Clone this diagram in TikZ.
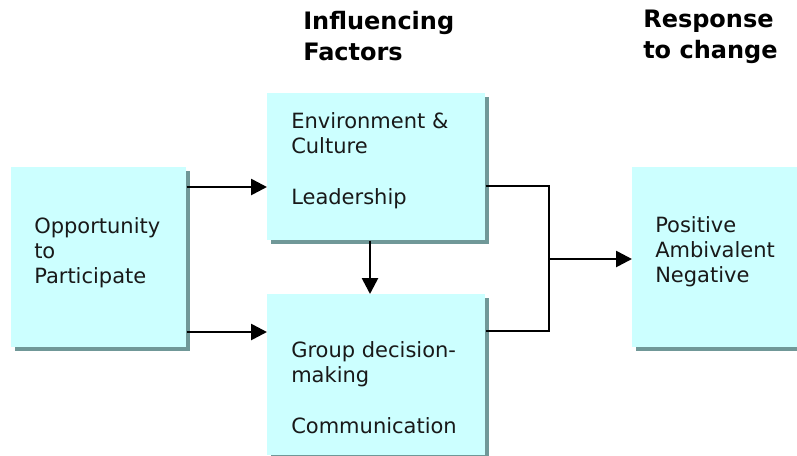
\documentclass[tikz,border=0pt]{standalone}
\usepackage{fontspec}
\setmainfont{DejaVu Sans}
\usetikzlibrary{arrows.meta,shadows}
\definecolor{boxfill}{HTML}{CCFFFF}
\definecolor{boxshadow}{HTML}{709898}
\begin{document}
\begin{tikzpicture}[x=0.75pt,y=-0.75pt,
 box/.style={fill=boxfill, draw=none, inner sep=0, anchor=north west,
   drop shadow={shadow xshift=3pt, shadow yshift=-3pt, fill=boxshadow, opacity=1}},
 lbl/.style={anchor=north west, inner sep=0, align=left, text=black!90,
   font=\fontsize{15.75}{19}\selectfont},
 hdr/.style={anchor=north west, inner sep=0, align=left,
   font=\fontsize{18}{23.25}\selectfont\bfseries},
 arr/.style={line width=2pt, -{Triangle[length=12pt,width=12pt]}},
 conn/.style={line width=1.5pt}]
\useasboundingbox (0,0) rectangle (797,455);
% boxes
\node[box, minimum width=131.25pt, minimum height=135pt] (L) at (11,167) {};
\node[box, minimum width=163.5pt, minimum height=110.25pt] (T) at (267,93) {};
\node[box, minimum width=163.5pt, minimum height=120.75pt] (B) at (267,294) {};
\node[box, minimum width=123.75pt, minimum height=135pt] (R) at (632,167) {};
% texts
\node[lbl] (Lt) at (34,213) {\rule{0pt}{15pt}Opportunity\\to\\Participate};
\node[lbl] (Tt) at (291,108) {\rule{0pt}{15pt}Environment \&\\Culture\\[19pt]Leadership};
\node[lbl] (Bt) at (291,337) {\rule{0pt}{15pt}Group decision-\\making\\[19pt]Communication};
\node[lbl] (Rt) at (655,212) {\rule{0pt}{15pt}Positive\\Ambivalent\\Negative};
\node[hdr] (H1) at (303,9) {\rule{0pt}{15pt}Influencing\\Factors};
\node[hdr] (H2) at (643,7) {\rule{0pt}{15pt}Response\\to change};
% connector helpers
\coordinate (y1) at (0,187);
\coordinate (y2) at (0,332);
\coordinate (y3) at (0,186);
\coordinate (y4) at (0,331);
\coordinate (xv) at (370,0);
\coordinate (jn) at (549,259);
% connectors
\draw[arr] (L.east |- y1) -- (T.west |- y1);
\draw[arr] (L.east |- y2) -- (B.west |- y2);
\draw[arr] (T.south -| xv) -- (B.north -| xv);
\draw[conn] (T.east |- y3) -| (jn) |- (B.east |- y4);
\draw[arr] (jn) -- (R.west |- jn);
\end{tikzpicture}
\end{document}
